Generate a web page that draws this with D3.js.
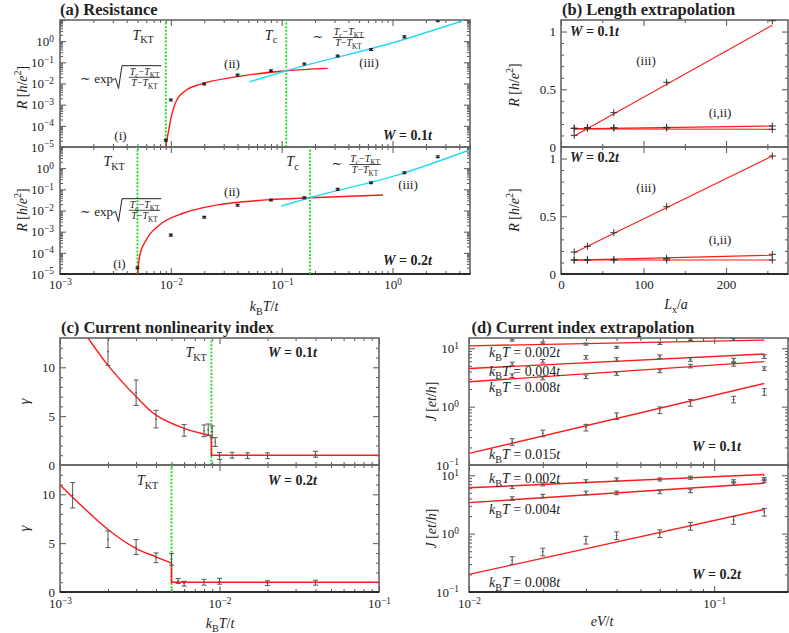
<!DOCTYPE html>
<html><head><meta charset="utf-8">
<script src="https://cdn.jsdelivr.net/npm/d3@7"></script>
<style>body{margin:0;background:#fff} svg{font-family:"Liberation Serif","DejaVu Serif",serif}</style>
</head><body><svg id="c" width="789" height="633"></svg>
<script>
// ================= DATA =================
// (a) Resistance vs k_B T / t
const aT1 = [0.009,0.01,0.02,0.04,0.08,0.16,0.32,0.64,1.28,2.56];
const aR1 = [2.1e-5,1.66e-3,9.5e-3,0.025,0.040,0.083,0.20,0.41,1.6,9.2];
const aT2 = [0.005,0.01,0.02,0.04,0.08,0.16,0.32,0.64,1.28,2.56];
const aR2 = [2.0e-5,6.9e-4,4.8e-3,0.0176,0.0316,0.040,0.10,0.205,0.61,3.5];
const aRedT1 = [0.00895,0.0095,0.0101,0.0113,0.0138,0.0183,0.0363,0.11,0.26];
const aRedR1 = [1e-5,5.2e-5,2.7e-4,1.66e-3,4.9e-3,9.1e-3,0.0195,0.040,0.052];
const aCyanT1 = [0.051,0.11,1.16,4.3];
const aCyanR1 = [0.012,0.040,1.05,9.2];
const aRedT2 = [0.005,0.00525,0.006,0.0079,0.0129,0.0258,0.073,0.179,0.82];
const aRedR2 = [1e-5,7.9e-5,4.1e-4,2.07e-3,7.4e-3,0.018,0.0316,0.040,0.054];
const aCyanT2 = [0.099,0.179,1.16,4.94];
const aCyanR2 = [0.0162,0.040,0.51,7.2];
const aTkt = [0.009,0.005];
const aTc = [0.11,0.18];
const aRelErr = 0.1;

// (b) Length extrapolation
const bL = [16,32,64,128,256];
const bFitL = [16,256];
const b1iii = [0.101,0.167,0.297,0.560,1.094];
const b1i   = [0.162,0.167,0.167,0.170,0.182];
const b1ii  = [0.162,0.165,0.164,0.165,0.153];
const b1FitIII = [0.095,1.055], b1FitI = [0.157,0.182], b1FitII = [0.157,0.153];
const b2iii = [0.19,0.24,0.358,0.583,1.022];
const b2i   = [0.121,0.123,0.125,0.136,0.171];
const b2ii  = [0.121,0.121,0.121,0.121,0.121];
const b2FitIII = [0.185,1.022], b2FitI = [0.12,0.163], b2FitII = [0.121,0.121];

// (c) Current nonlinearity index
const cT1 = [0.002,0.003,0.004,0.006,0.008,0.0085,0.009,0.0094,0.01,0.012,0.015,0.02,0.04];
const cG1 = [11.6,7.4,4.7,3.55,3.5,3.6,3.4,2.35,0.92,1.0,0.95,0.95,1.1];
const cE1 = [1.4,1.3,0.9,0.6,0.6,0.6,0.6,0.45,0.35,0.3,0.3,0.3,0.3];
const cFitT1 = [0.0015,0.002,0.003,0.004,0.006,0.0089];
const cFitG1 = [13,10.2,7.0,5.1,3.75,3.0];
const cT2 = [0.0012,0.002,0.003,0.004,0.005,0.0055,0.006,0.008,0.01,0.02,0.04];
const cG2 = [9.9,5.4,4.6,3.5,3.35,1.13,0.85,1.0,1.1,0.9,0.95];
const cE2 = [1.3,0.85,0.77,0.5,0.6,0.25,0.25,0.3,0.3,0.25,0.25];
const cFitT2 = [0.001,0.002,0.003,0.004,0.005];
const cFitG2 = [10.95,6.4,4.45,3.6,2.95];
const cTkt = [0.0089,0.005];
const cPlateau = 1.0;

// (d) Current index extrapolation
const dV = [0.015,0.02,0.03,0.04,0.06,0.08,0.12,0.16];
const dFitV = [0.01,0.16];
const d1J = { '0.002':[13.8,12.4,11.8,10.4,12.1,14.2,14.2,null],
              '0.004':[5.4,6.0,7.0,6.45,7.2,6.45,6.3,7.2],
              '0.008':[3.4,3.1,3.25,3.7,4.1,4.96,5.3,4.5],
              '0.015':[0.25,0.35,0.44,0.69,0.875,1.17,1.33,1.8] };
const d1Fit = { '0.002':[11.0,13.8], '0.004':[4.5,8.0], '0.008':[2.67,5.9], '0.015':[0.158,2.5] };
const d1Err = { '0.002':0.04, '0.004':0.07, '0.008':0.07, '0.015':0.13 };
const d2J = { '0.002':[6.3,7.0,7.9,8.5,8.5,9.1,7.9,8.6],
              '0.004':[4.0,4.4,5.0,5.0,5.2,5.4,7.2,8.0],
              '0.008':[0.35,0.49,0.78,0.93,1.01,1.35,1.7,2.35] };
const d2Fit = { '0.002':[6.1,10.3], '0.004':[3.4,7.3], '0.008':[0.2,2.6] };
const d2Err = { '0.002':0.06, '0.004':0.07, '0.008':0.15 };

// ================= HELPERS =================
const S = d3.select('#c');
const RED = '#ff1a1a', CYAN = '#22ddee', GREEN = '#11dd11', EB = '#555', TXT = '#222';
const FONT = 'Liberation Serif, DejaVu Serif, serif';

function mt(g,x,y,parts,o={}){
  const size=o.size||14;
  const t=g.append('text').attr('x',x).attr('y',y).attr('font-size',size).attr('font-family',FONT)
    .attr('text-anchor',o.anchor||'start').attr('fill',o.fill||TXT);
  if(o.weight) t.attr('font-weight',o.weight);
  if(o.rotate) t.attr('transform',`rotate(${o.rotate},${x},${y})`);
  let shift=0;
  for(const [s,c] of parts){
    const ts=t.append('tspan').text(s);
    const sub=c.includes('b'), sup=c.includes('p');
    const target= sub? size*0.28 : sup? -size*0.42 : 0;
    if(target!==shift) ts.attr('dy',target-shift);
    shift=target;
    if(sub||sup) ts.attr('font-size',size*0.72);
    if(c.includes('i')) ts.attr('font-style','italic');
  }
  return t;
}
function frac(g,cx,ly,num,den,size){
  const n=mt(g,cx,ly-2.6,num,{size,anchor:'middle'});
  const d=mt(g,cx,ly+8.6,den,{size,anchor:'middle'});
  const w=Math.max(n.node().getComputedTextLength(),d.node().getComputedTextLength());
  g.append('line').attr('x1',cx-w/2-1).attr('x2',cx+w/2+1).attr('y1',ly).attr('y2',ly)
    .attr('stroke',TXT).attr('stroke-width',0.8);
  return w;
}
function logMajors(lo,hi){const o=[];for(let e=Math.ceil(Math.log10(lo)-1e-9);e<=Math.floor(Math.log10(hi)+1e-9);e++)o.push(Math.pow(10,e));return o;}
function logMinors(lo,hi){const o=[];for(let e=Math.floor(Math.log10(lo));e<=Math.ceil(Math.log10(hi));e++)for(let m=2;m<=9;m++){const v=m*Math.pow(10,e);if(v>=lo*0.999&&v<=hi*1.001)o.push(v);}return o;}
function supLabel(sel){
  sel.each(function(v){
    const t=d3.select(this); const e=Math.round(Math.log10(v));
    t.text(null);
    t.append('tspan').text('10');
    t.append('tspan').attr('dy','-0.45em').attr('font-size','0.72em').text(e<0?'\u2212'+(-e):String(e));
  });
}
function frame(x,y,o){
  const g=S.append('g');
  const [x0,x1]=x.range(), [yb,yt]=y.range();
  const mk=(fn,sc,vals,size,tx,ty,lab,pad)=>{
    const ax=fn(sc).tickValues(vals).tickSizeInner(-size).tickSizeOuter(0).tickPadding(pad||5)
      .tickFormat(lab? (d=>d) : ()=>'');
    const gg=g.append('g').attr('transform',`translate(${tx},${ty})`).call(ax);
    gg.select('.domain').remove();
    gg.attr('font-family',FONT).attr('font-size',13).attr('color',TXT);
    gg.selectAll('line').attr('stroke','#555').attr('stroke-width',1);
    return gg;
  };
  if(o.xMin){mk(d3.axisBottom,x,o.xMin,3,0,yb);mk(d3.axisTop,x,o.xMin,3,0,yt);}
  if(o.yMin){mk(d3.axisLeft,y,o.yMin,3,x0,0);mk(d3.axisRight,y,o.yMin,3,x1,0);}
  const bx=mk(d3.axisBottom,x,o.xMaj,6,0,yb,o.xLab,o.xPad);
  mk(d3.axisTop,x,o.xMaj,6,0,yt);
  const ly=mk(d3.axisLeft,y,o.yMaj,6,x0,0,true,o.yPad);
  mk(d3.axisRight,y,o.yMaj,6,x1,0);
  if(o.yLog) supLabel(ly.selectAll('.tick text'));
  else if(o.yFmt) ly.selectAll('.tick text').text(o.yFmt);
  if(o.yLabMax!=null) ly.selectAll('.tick text').filter(d=>d>o.yLabMax).remove();
  if(o.xLab && o.xLog) supLabel(bx.selectAll('.tick text'));
  g.append('rect').attr('x',x0).attr('y',yt).attr('width',x1-x0).attr('height',yb-yt)
    .attr('fill','none').attr('stroke','#666').attr('stroke-width',1.6);
  if(o.bottomBlack) g.append('line').attr('x1',x0).attr('x2',x1).attr('y1',yb).attr('y2',yb).attr('stroke','#111').attr('stroke-width',1.6);
  return g;
}
let clipN=0;
function plotArea(x,y){
  const id='clip'+(clipN++); const [x0,x1]=x.range(), [yb,yt]=y.range();
  S.append('clipPath').attr('id',id).append('rect').attr('x',x0).attr('y',yt).attr('width',x1-x0).attr('height',yb-yt);
  return S.append('g').attr('clip-path',`url(#${id})`);
}
function path(g,x,y,xs,ys,color,w,curve,dash){
  const pts=xs.map((v,i)=>[v,ys[i]]).filter(p=>p[1]!=null);
  g.append('path').attr('d',d3.line().x(d=>x(d[0])).y(d=>y(d[1])).curve(curve||d3.curveLinear)(pts))
    .attr('fill','none').attr('stroke',color).attr('stroke-width',w||1.4).attr('stroke-dasharray',dash||null);
}
function vline(g,x,y,v,color){
  const [yb,yt]=y.range();
  g.append('line').attr('x1',x(v)).attr('x2',x(v)).attr('y1',yb).attr('y2',yt)
    .attr('stroke',color).attr('stroke-width',1.8).attr('stroke-dasharray','2,1.6');
}
function errs(g,x,y,xs,ys,lo,hi,cap,color,w){
  xs.forEach((v,i)=>{ if(ys[i]==null) return;
    const X=x(v), Y1=y(lo[i]), Y2=y(hi[i]), Y=y(ys[i]);
    const p=`M${X},${Y1}V${Y2}M${X-cap},${Y1}h${2*cap}M${X-cap},${Y2}h${2*cap}M${X-1},${Y}h2`;
    g.append('path').attr('d',p).attr('fill','none').attr('stroke',color||EB).attr('stroke-width',w||1);
  });
}
function plus(g,x,y,xs,ys,color){
  xs.forEach((v,i)=>{const X=x(v),Y=y(ys[i]);
    g.append('path').attr('d',`M${X-3.5},${Y}h7M${X},${Y-3.5}v7`).attr('stroke',color||'#333').attr('stroke-width',1);});
}

// common text parts
const TKT=[['T','i'],['KT','b']];
const TC=[['T','i'],['c','b']];
const NUM=[['T','i'],['c','b'],['\u2212',''],['T','i'],['KT','b']];
const DEN=[['T','i'],['\u2212',''],['T','i'],['KT','b']];
const KBTT=[['k','i'],['B','b'],['T','i'],['/',''],['t','i']];
const RLAB=[['R','i'],[' [',''],['h','i'],['/',''],['e','i'],['2','p'],[']','']];
const JLAB=[['J','i'],[' [',''],['et','i'],['/',''],['h','i'],[']','']];
const Wlab=v=>[['W','i'],[' = '+v,''],['t','i']];
const kbt=v=>[['k','i'],['B','b'],['T','i'],[' = '+v,''],['t','i']];
const TITLE=16.5;

// ================= PANEL (a) =================
const xA=d3.scaleLog().domain([1e-3,5]).range([60,470]);
const yA=[d3.scaleLog().domain([1e-5,10]).range([147,20]), d3.scaleLog().domain([1e-5,10]).range([274,147])];
const aSets=[[aT1,aR1,aRedT1,aRedR1,aCyanT1,aCyanR1],[aT2,aR2,aRedT2,aRedR2,aCyanT2,aCyanR2]];
[0,1].forEach(k=>{
  const y=yA[k];
  frame(xA,y,{xMaj:logMajors(1e-3,5),xMin:logMinors(1e-3,5),yMaj:logMajors(1e-5,10),yMin:logMinors(1e-5,10),
    yLog:true,xLog:true,xLab:k===1,yPad:6,xPad:6,bottomBlack:k===1,yLabMax:1});
  const g=plotArea(xA,y);
  vline(g,xA,y,aTkt[k],GREEN); vline(g,xA,y,aTc[k],GREEN);
  const [T,R,rT,rR,cT,cR]=aSets[k];
  path(g,xA,y,rT,rR,RED,1.4,d3.curveMonotoneX);
  path(g,xA,y,cT,cR,CYAN,1.4,d3.curveMonotoneX);
  errs(g,xA,y,T,R,R.map(r=>r*(1-aRelErr)),R.map(r=>r*(1+aRelErr)),2,'#222',1.2);
});
// texts (a)
mt(S,60,15,[['(a) Resistance','']],{size:TITLE,weight:'bold'});
mt(S,27,87.5,RLAB,{size:14,anchor:'middle',rotate:-90});
mt(S,27,210,RLAB,{size:14,anchor:'middle',rotate:-90});
mt(S,264,311,KBTT,{size:14,anchor:'middle'});
[[0,143,271,318,348.5,37.5],[1,114,292.5,337,365,164.5]].forEach(([k,xk,xc,xs,xf,lf])=>{
  const yb = k ? 166 : 39.5;
  mt(S,xk,yb,TKT,{size:14,anchor:'middle'});
  mt(S,xc,yb,TC,{size:14,anchor:'middle'});
  mt(S,xs,lf+3.5,[['\u223c','']],{size:13,anchor:'middle'});
  frac(S,xf,lf,NUM,DEN,10);
});
mt(S,232,67.5,[['(ii)','']],{size:13,anchor:'middle'});
mt(S,369,67,[['(iii)','']],{size:13,anchor:'middle'});
mt(S,120.5,140,[['(i)','']],{size:13,anchor:'middle'});
mt(S,383,140,Wlab('0.1'),{size:14,weight:'bold'});
mt(S,232,196,[['(ii)','']],{size:13,anchor:'middle'});
mt(S,408,189,[['(iii)','']],{size:13,anchor:'middle'});
mt(S,119.5,268,[['(i)','']],{size:13,anchor:'middle'});
mt(S,383,265,Wlab('0.2'),{size:14,weight:'bold'});
[0,133].forEach(dy=>{
  mt(S,80,82.5+dy,[['\u223c exp','']],{size:13});
  const w=frac(S,144.5,77.3+dy,NUM,DEN,10);
  S.append('path').attr('d',`M113,${80+dy}L115.5,${78.3+dy}L118.5,${88.5+dy}L122,${65.7+dy}L${144.5+w/2+2},${65.7+dy}`)
    .attr('fill','none').attr('stroke',TXT).attr('stroke-width',1);
});

// ================= PANEL (b) =================
const xB=d3.scaleLinear().domain([0,275]).range([561,788]);
const yB=[d3.scaleLinear().domain([0,1.1]).range([147,20]), d3.scaleLinear().domain([0,1.1]).range([274,147])];
const bSets=[[b1iii,b1i,b1ii,b1FitIII,b1FitI,b1FitII],[b2iii,b2i,b2ii,b2FitIII,b2FitI,b2FitII]];
[0,1].forEach(k=>{
  const y=yB[k];
  frame(xB,y,{xMaj:[0,100,200],xMin:[50,150,250],yMaj:[0,0.5,1],yMin:[0.1,0.2,0.3,0.4,0.6,0.7,0.8,0.9],
    xLab:k===1,yFmt:d=>d===0?'0':d===1?'1':'0.5',yPad:5,xPad:6,bottomBlack:k===1});
  const g=plotArea(xB,y);
  const [iii,i1,ii,fIII,fI,fII]=bSets[k];
  path(g,xB,y,bFitL,fIII,RED,1.1); path(g,xB,y,bFitL,fI,RED,1.1); path(g,xB,y,bFitL,fII,RED,1.1);
  plus(g,xB,y,bL,iii); plus(g,xB,y,bL,i1); plus(g,xB,y,bL,ii);
});
mt(S,562,14.5,[['(b) Length extrapolation','']],{size:TITLE,weight:'bold'});
mt(S,519,85,RLAB,{size:14,anchor:'middle',rotate:-90});
mt(S,519,210,RLAB,{size:14,anchor:'middle',rotate:-90});
mt(S,676,309,[['L','i'],['x','b'],['/',''],['a','i']],{size:14,anchor:'middle'});
mt(S,570,36,Wlab('0.1'),{size:14,weight:'bold'});
mt(S,646,65,[['(iii)','']],{size:13,anchor:'middle'});
mt(S,720,117,[['(i,ii)','']],{size:13,anchor:'middle'});
mt(S,570,162,Wlab('0.2'),{size:14,weight:'bold'});
mt(S,646,191.5,[['(iii)','']],{size:13,anchor:'middle'});
mt(S,720,243.5,[['(i,ii)','']],{size:13,anchor:'middle'});

// ================= PANEL (c) =================
const xC=d3.scaleLog().domain([1e-3,1e-1]).range([60,379]);
const yC=[d3.scaleLinear().domain([0,13]).range([465,338]), d3.scaleLinear().domain([0,13]).range([592,465])];
const cSets=[[cT1,cG1,cE1,cFitT1,cFitG1],[cT2,cG2,cE2,cFitT2,cFitG2]];
[0,1].forEach(k=>{
  const y=yC[k];
  frame(xC,y,{xMaj:logMajors(1e-3,1e-1),xMin:logMinors(1e-3,1e-1),yMaj:[0,5,10],yMin:[1,2,3,4,6,7,8,9,11,12],
    xLab:k===1,xLog:true,yFmt:d=>String(d),yPad:5,xPad:7,bottomBlack:k===1});
  const g=plotArea(xC,y);
  vline(g,xC,y,cTkt[k],GREEN);
  const [T,G,E,fT,fG]=cSets[k];
  path(g,xC,y,fT,fG,RED,1.4,d3.curveCatmullRom);
  path(g,xC,y,[cTkt[k],cTkt[k],0.1],[fG[fG.length-1],cPlateau,cPlateau],RED,1.6);
  errs(g,xC,y,T,G,G.map((v,i)=>v-E[i]),G.map((v,i)=>v+E[i]),2.5,EB,1);
});
mt(S,61,333,[['(c) Current nonlinearity index','']],{size:TITLE,weight:'bold'});
mt(S,29,401.5,[['\u03b3','i']],{size:15,anchor:'middle',rotate:-90});
mt(S,29,528.5,[['\u03b3','i']],{size:15,anchor:'middle',rotate:-90});
mt(S,220,628,KBTT,{size:14,anchor:'middle'});
mt(S,196,357,TKT,{size:14,anchor:'middle'});
mt(S,268,357,Wlab('0.1'),{size:14,weight:'bold'});
mt(S,147.5,485,TKT,{size:14,anchor:'middle'});
mt(S,268,485,Wlab('0.2'),{size:14,weight:'bold'});

// ================= PANEL (d) =================
const xD=d3.scaleLog().domain([0.01,0.2]).range([469,788]);
const yD=[d3.scaleLog().domain([0.1,15]).range([465,338]), d3.scaleLog().domain([0.1,15]).range([592,465])];
const dSets=[[d1J,d1Fit,d1Err],[d2J,d2Fit,d2Err]];
[0,1].forEach(k=>{
  const y=yD[k];
  frame(xD,y,{xMaj:logMajors(0.01,0.2),xMin:logMinors(0.01,0.2),yMaj:logMajors(0.1,15),yMin:logMinors(0.1,15),
    xLab:k===1,xLog:true,yLog:true,yPad:10,xPad:7,bottomBlack:k===1});
  const g=plotArea(xD,y);
  const [J,Fit,Er]=dSets[k];
  Object.keys(J).forEach(key=>{
    path(g,xD,y,dFitV,Fit[key],RED,1.4);
    const ys=J[key];
    errs(g,xD,y,dV,ys,ys.map(v=>v==null?null:v*(1-Er[key])),ys.map(v=>v==null?null:v*(1+Er[key])),2.5,EB,1);
  });
});
mt(S,471.5,333,[['(d) Current index extrapolation','']],{size:TITLE,weight:'bold'});
mt(S,436,401.5,JLAB,{size:14,anchor:'middle',rotate:-90});
mt(S,436,528.5,JLAB,{size:14,anchor:'middle',rotate:-90});
mt(S,602,626,[['eV','i'],['/',''],['t','i']],{size:14,anchor:'middle'});
mt(S,489,357,kbt('0.002'),{size:14});
mt(S,489,375.5,kbt('0.004'),{size:14});
mt(S,489,392,kbt('0.008'),{size:14});
mt(S,489,459,kbt('0.015'),{size:14});
mt(S,692,451,Wlab('0.1'),{size:14,weight:'bold'});
mt(S,489,483,kbt('0.002'),{size:14});
mt(S,489,514,kbt('0.004'),{size:14});
mt(S,489,587,kbt('0.008'),{size:14});
mt(S,692,579,Wlab('0.2'),{size:14,weight:'bold'});
</script></body></html>
